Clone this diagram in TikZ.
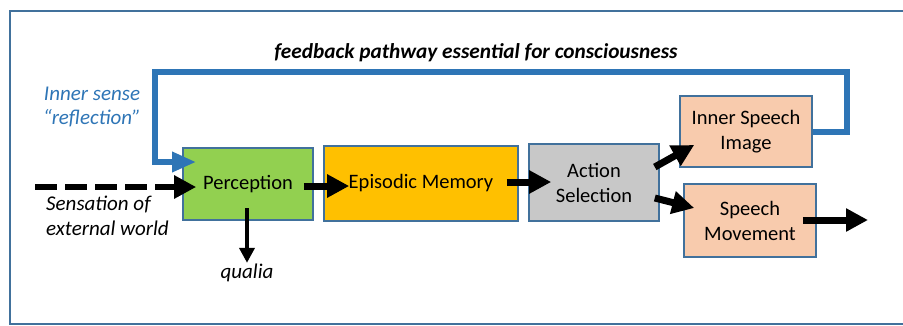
\documentclass[tikz,border=0pt]{standalone}
\usepackage{fontspec}
\setmainfont{Carlito}
\usetikzlibrary{arrows.meta,calc}
\definecolor{frameblue}{HTML}{41719C}
\definecolor{loopblue}{HTML}{2E75B6}
\definecolor{pgreen}{HTML}{92D050}
\definecolor{porange}{HTML}{FFC000}
\definecolor{pgray}{HTML}{C8C8C8}
\definecolor{ppeach}{HTML}{F8CBAD}
\begin{document}
\begin{tikzpicture}[x=1pt,y=-1pt,
  box/.style={draw=frameblue,line width=1.6pt,inner sep=0pt,align=center,
    font=\fontsize{20.5}{25}\selectfont},
  lbl/.style={inner sep=0pt,align=left,font=\fontsize{21}{24.5}\selectfont\itshape},
  blk/.style={line width=7pt,-{Triangle[length=22pt,width=22pt]}},
  thin/.style={line width=4pt,-{Triangle[length=15pt,width=15pt]}},
  blu/.style={draw=loopblue,line width=6pt,-{Triangle[length=24pt,width=19pt]}}]
\useasboundingbox (0,0) rectangle (903,325);
\draw[frameblue,line width=1.6pt] (10,11) rectangle (920,324);
% boxes
\node[box,fill=pgreen,minimum width=130pt,minimum height=72pt] (p) at (248,184) {Perception};
\node[box,fill=porange,minimum width=194pt,minimum height=75pt] (e) at (421,183.5) {Episodic Memory};
\node[box,fill=pgray,minimum width=130pt,minimum height=77pt] (a) at (594,182.5) {Action\\Selection};
\node[box,fill=ppeach,minimum width=132pt,minimum height=71pt] (i) at (746,131.5) {Inner Speech\\Image};
\node[box,fill=ppeach,minimum width=132pt,minimum height=73pt] (s) at (750,220.5) {Speech\\Movement};
% labels
\node[inner sep=0pt,font=\fontsize{21.3}{25}\selectfont\bfseries\itshape] (fb) at (476,53) {feedback pathway essential for consciousness};
\node[lbl,text=loopblue,align=center] (ins) at (92,107) {Inner sense\\“reflection”};
\node[lbl,anchor=west] (sen) at (46,216) {Sensation of\\external world};
\node[lbl] (q) at (247,273) {qualia};
% feedback loop
\coordinate (r1) at (847,131.5);
\coordinate (r2) at (847,72);
\coordinate (l1) at (155,72);
\coordinate (l2) at (155,162);
\draw[blu,line join=miter] (i.east) -- (r1) -- (r2) -- (l1) -- (l2) -- ([xshift=14pt]p.west |- l2);
% black arrows
\coordinate (ext) at (35,187);
\draw[blk,line width=6pt,dash pattern=on 22pt off 8pt] (ext) -- ([xshift=14pt]p.west |- ext);
\draw[blk] ([xshift=-10pt,yshift=-2pt]p.east) -- ([xshift=26pt,yshift=-2.5pt]e.west);
\draw[blk] ([xshift=-12pt,yshift=1.5pt]e.east) -- ([xshift=23pt,yshift=0.5pt]a.west);
\draw[blk] ([xshift=-5pt,yshift=15.5pt]a.east) -- ([xshift=15pt,yshift=-13.5pt]i.west);
\draw[blk] ([xshift=-5pt,yshift=-15.5pt]a.east) -- ([xshift=11pt,yshift=12.5pt]s.west);
\coordinate (out) at (868,220);
\draw[blk] ([xshift=-14pt]s.east |- out) -- (out);
\draw[thin] ([yshift=-24pt]p.center -| q.north) -- ([yshift=1pt]q.north);
\end{tikzpicture}
\end{document}
